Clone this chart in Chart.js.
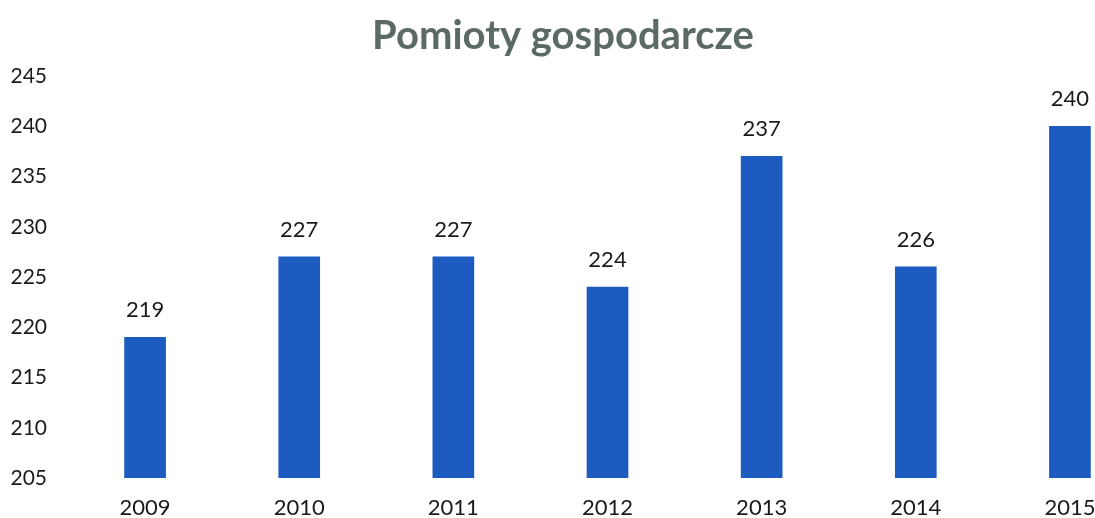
<!DOCTYPE html>
<html lang="pl">
<head>
<meta charset="UTF-8">
<title>Pomioty gospodarcze</title>
<script src="https://cdn.jsdelivr.net/npm/chart.js"></script>
<style>
  html, body { margin: 0; padding: 0; background: #fff; overflow: hidden; }
  #wrap { width: 1147px; height: 518px; }
</style>
</head>
<body>
<div id="wrap"><canvas id="chart"></canvas></div>
<script>
  const years = ['2009', '2010', '2011', '2012', '2013', '2014', '2015'];
  const counts = [219, 227, 227, 224, 237, 226, 240];
  const yMin = 205;
  const yMax = 245;
  const yStep = 5;
  const chartTitle = 'Pomioty gospodarcze';

  const FONT = 'Lato, "Open Sans", sans-serif';

  // title is drawn by hand because the original sits a bit left of the canvas centre
  const titlePlugin = {
    id: 'titleText',
    afterDraw(chart) {
      const ctx = chart.ctx;
      ctx.save();
      ctx.font = 'bold 40px ' + FONT;
      ctx.fillStyle = '#5b6b63';
      ctx.textAlign = 'center';
      ctx.textBaseline = 'middle';
      ctx.fillText(chartTitle, 563, 36);
      ctx.restore();
    }
  };

  // labels above each bar
  const valueLabels = {
    id: 'valueLabels',
    afterDatasetsDraw(chart) {
      const ctx = chart.ctx;
      const meta = chart.getDatasetMeta(0);
      ctx.save();
      ctx.font = '22px ' + FONT;
      ctx.fillStyle = '#1a1a1a';
      ctx.textAlign = 'center';
      ctx.textBaseline = 'bottom';
      meta.data.forEach((bar, i) => {
        ctx.fillText(String(counts[i]), bar.x, bar.y - 16);
      });
      ctx.restore();
    }
  };

  new Chart(document.getElementById('chart'), {
    type: 'bar',
    data: {
      labels: years,
      datasets: [{
        data: counts,
        backgroundColor: '#1c5bbf',
        barThickness: 41,
        base: yMin
      }]
    },
    options: {
      responsive: true,
      maintainAspectRatio: false,
      animation: false,
      layout: { padding: { top: 76, bottom: 0 } },
      plugins: {
        legend: { display: false },
        tooltip: { enabled: false },
        title: { display: false }
      },
      scales: {
        x: {
          grid: { display: false, drawTicks: false },
          border: { display: false },
          ticks: {
            color: '#1a1a1a',
            font: { family: FONT, size: 22 },
            padding: 17
          },
          afterFit(scale) { scale.height = 40; }
        },
        y: {
          min: yMin,
          max: yMax,
          grid: { display: false, drawTicks: false },
          border: { display: false },
          ticks: {
            stepSize: yStep,
            color: '#1a1a1a',
            font: { family: FONT, size: 21 },
            padding: 21
          },
          afterFit(scale) { scale.width = 68; }
        }
      }
    },
    plugins: [valueLabels, titlePlugin]
  });
</script>
</body>
</html>
